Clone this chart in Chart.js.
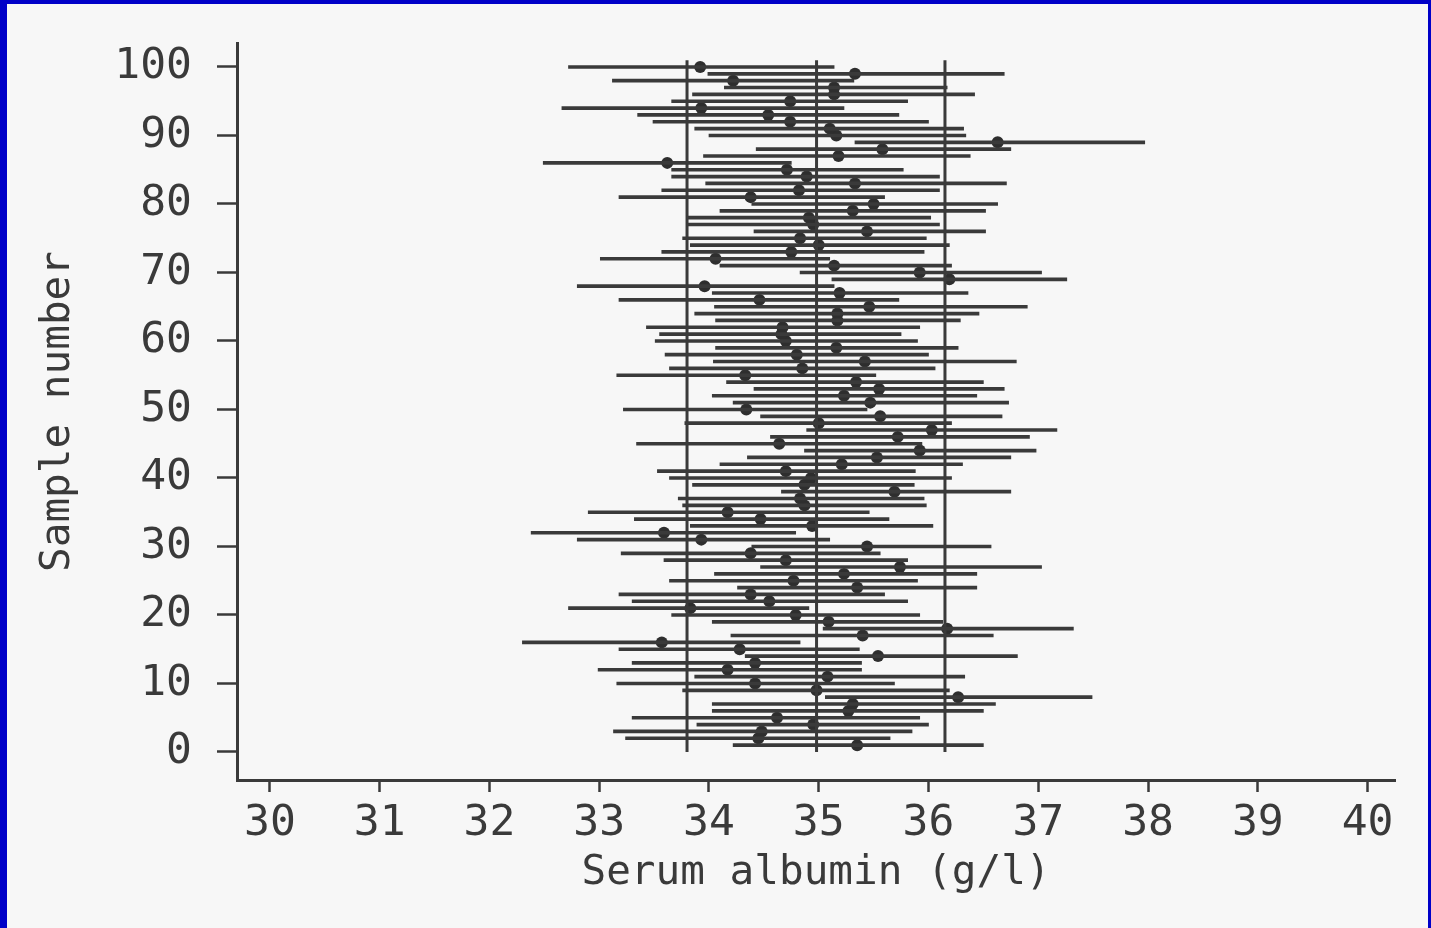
<!DOCTYPE html>
<html>
<head>
<meta charset="utf-8">
<script src="https://cdn.jsdelivr.net/npm/chart.js@4.4.0/dist/chart.umd.min.js"></script>
<style>
html, body { margin:0; padding:0; width:1431px; height:928px; background:#0000c8; overflow:hidden; }
#wrap { position:absolute; left:7px; top:4px; width:1421px; height:924px; background:#f7f7f7; }
</style>
</head>
<body>
<div id="wrap"><canvas id="myChart" width="1421" height="924"></canvas></div>
<script>
// sample numbers 1..100
const sampleNo = [1,2,3,4,5,6,7,8,9,10,11,12,13,14,15,16,17,18,19,20,
  21,22,23,24,25,26,27,28,29,30,31,32,33,34,35,36,37,38,39,40,
  41,42,43,44,45,46,47,48,49,50,51,52,53,54,55,56,57,58,59,60,
  61,62,63,64,65,66,67,68,69,70,71,72,73,74,75,76,77,78,79,80,
  81,82,83,84,85,86,87,88,89,90,91,92,93,94,95,96,97,98,99,100];

// sample means (g/l)
const means = [35.35,34.45,34.48,34.95,34.62,35.27,35.31,36.27,34.98,34.42,
  35.08,34.17,34.42,35.54,34.28,33.57,35.40,36.17,35.09,34.79,
  33.83,34.55,34.38,35.35,34.77,35.23,35.74,34.70,34.38,35.44,
  33.93,33.59,34.94,34.47,34.17,34.87,34.83,35.69,34.87,34.93,
  34.70,35.21,35.53,35.92,34.64,35.72,36.03,35.00,35.56,34.34,
  35.47,35.23,35.55,35.34,34.33,34.85,35.42,34.80,35.16,34.70,
  34.66,34.67,35.17,35.17,35.46,34.46,35.19,33.96,36.19,35.92,
  35.14,34.06,34.75,35.00,34.83,35.44,34.95,34.91,35.31,35.50,
  34.38,34.82,35.33,34.89,34.71,33.62,35.18,35.58,36.63,35.16,
  35.10,34.74,34.54,33.93,34.74,35.14,35.14,34.22,35.33,33.92];

// lower confidence limits
const lower = [34.22,33.24,33.13,33.89,33.30,34.03,34.03,35.06,33.76,33.16,
  33.87,32.99,33.30,34.33,33.18,32.30,34.20,35.04,34.03,33.66,
  32.72,33.30,33.18,34.26,33.64,34.05,34.47,33.59,33.20,34.39,
  32.80,32.38,33.83,33.32,32.90,33.76,33.72,34.66,33.85,33.64,
  33.53,34.10,34.35,34.87,33.34,34.56,34.89,33.78,34.47,33.22,
  34.22,34.03,34.41,34.16,33.16,33.64,34.04,33.60,34.06,33.51,
  33.55,33.43,34.06,33.87,34.05,33.18,34.03,32.80,35.12,34.83,
  34.10,33.01,33.57,33.83,33.76,34.41,33.80,33.80,34.10,34.39,
  33.18,33.57,33.97,33.66,33.66,32.49,33.95,34.43,35.33,34.00,
  33.87,33.49,33.35,32.66,33.66,33.85,34.14,33.12,33.99,32.72];

// upper confidence limits
const upper = [36.50,35.65,35.85,36.00,35.92,36.50,36.61,37.49,36.19,35.69,
  36.33,35.39,35.39,36.81,35.37,34.83,36.59,37.32,36.13,35.92,
  34.91,35.81,35.60,36.44,35.90,36.44,37.03,35.81,35.56,36.57,
  35.10,34.79,36.04,35.64,35.46,35.98,35.96,36.75,35.87,36.21,
  35.88,36.31,36.75,36.98,35.94,36.92,37.17,36.21,36.67,35.44,
  36.73,36.44,36.69,36.50,35.52,36.06,36.80,36.00,36.27,35.90,
  35.75,35.92,36.29,36.46,36.90,35.73,36.36,35.14,37.26,37.03,
  36.21,35.10,35.96,36.19,35.98,36.52,36.10,36.02,36.52,36.63,
  35.60,36.10,36.71,36.10,35.77,34.75,36.38,36.75,37.97,36.34,
  36.32,36.00,35.73,35.23,35.81,36.42,36.17,35.32,36.69,35.14];

// vertical reference lines
const refLines = [33.80, 34.98, 36.15];
const refSpan = [0, 101];

const xTicks = [30,31,32,33,34,35,36,37,38,39,40];
const yTicks = [0,10,20,30,40,50,60,70,80,90,100];

const ink = '#3a3a3a';
const fontFam = "'DejaVu Sans Mono', 'Liberation Mono', monospace";

const datasets = [];

datasets.push({
  type: 'bar',
  indexAxis: 'y',
  data: sampleNo.map((s, i) => ({ x: [lower[i], upper[i]], y: s })),
  backgroundColor: ink,
  borderWidth: 0,
  barThickness: 3,
  grouped: false
});

refLines.forEach(v => {
  datasets.push({
    type: 'line',
    data: refSpan.map(y => ({ x: v, y: y })),
    borderColor: ink,
    borderWidth: 3,
    pointRadius: 0,
    fill: false
  });
});

datasets.push({
  type: 'scatter',
  data: sampleNo.map((s, i) => ({ x: means[i], y: s })),
  backgroundColor: '#2e2e2e',
  borderWidth: 0,
  pointRadius: 6
});

const ctx = document.getElementById('myChart');

new Chart(ctx, {
  type: 'scatter',
  data: { datasets: datasets },
  options: {
    responsive: false,
    animation: false,
    devicePixelRatio: 1,
    events: [],
    layout: { padding: { top: 39, right: 33, left: 0, bottom: 0 } },
    plugins: {
      legend: { display: false },
      tooltip: { enabled: false }
    },
    scales: {
      x: {
        type: 'linear',
        min: 29.70,
        max: 40.25,
        offset: false,
        afterBuildTicks: scale => { scale.ticks = xTicks.map(v => ({ value: v })); },
        afterFit: scale => { scale.height = 148; scale.paddingLeft = 0; scale.paddingRight = 0; },
        ticks: { font: { family: fontFam, size: 43 }, color: ink, padding: 6 },
        grid: { offset: false, drawOnChartArea: false, drawTicks: true, tickLength: 12, tickWidth: 2.5, tickColor: ink },
        border: { display: true, color: ink, width: 3 },
        title: {
          display: true,
          text: 'Serum albumin (g/l)',
          font: { family: fontFam, size: 41 },
          color: ink,
          padding: { top: 0, bottom: 30 }
        }
      },
      y: {
        type: 'linear',
        min: -4.09,
        max: 103.5,
        offset: false,
        afterBuildTicks: scale => { scale.ticks = yTicks.map(v => ({ value: v })); },
        afterFit: scale => { scale.width = 230; scale.paddingTop = 0; scale.paddingBottom = 0; },
        ticks: { font: { family: fontFam, size: 43 }, color: ink, padding: 25 },
        grid: { offset: false, drawOnChartArea: false, drawTicks: true, tickLength: 20, tickWidth: 2.5, tickColor: ink },
        border: { display: true, color: ink, width: 3 },
        title: {
          display: true,
          text: 'Sample number',
          font: { family: fontFam, size: 41 },
          color: ink,
          padding: { top: 27, bottom: 0 }
        }
      }
    }
  }
});
</script>
</body>
</html>
